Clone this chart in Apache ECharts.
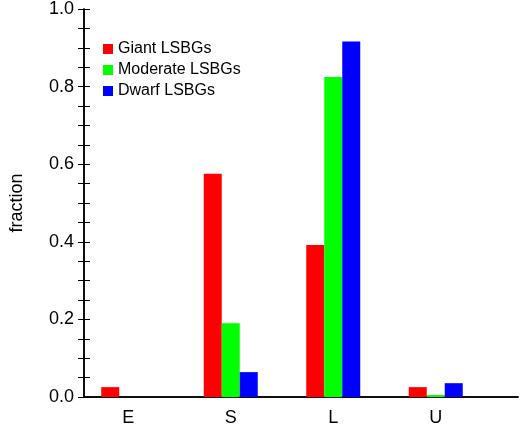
<!DOCTYPE html>
<html><head><meta charset="utf-8">
<script src="https://cdn.jsdelivr.net/npm/echarts@6/dist/echarts.min.js"></script>
<style>html,body{margin:0;background:#fff}#c{width:520px;height:430px}</style>
</head><body><div id="c"></div>
<script>
// 数据
const categories = ['E', 'S', 'L', 'U'];
const giant = [0.025, 0.565, 0.385, 0.025];
const moderate = [0, 0.187, 0.81, 0.005];
const dwarf = [0, 0.063, 0.9, 0.035];
const yTicks = ['0.0', '0.2', '0.4', '0.6', '0.8', '1.0'];

const font = 'Liberation Sans';
const chart = echarts.init(document.getElementById('c'));

const frameY = (pos, show) => ({
  gridIndex: 0, type: 'value', min: 0, max: 1, interval: 0.05, position: pos,
  axisLine: { show: true, lineStyle: { color: '#000', width: 1.5 } },
  axisTick: { show: true, inside: true, length: 6, lineStyle: { color: '#000' } },
  splitLine: { show: false },
  axisLabel: { show: show, color: '#000', fontSize: 18, fontFamily: font, margin: 10,
    formatter: v => yTicks.indexOf(v.toFixed(2).slice(0, 3)) >= 0 && Math.abs(v * 5 - Math.round(v * 5)) < 1e-6 ? v.toFixed(1) : '' },
  name: show ? 'fraction' : '', nameLocation: 'middle', nameGap: 58, nameRotate: 90,
  nameTextStyle: { color: '#000', fontSize: 18, fontFamily: font }
});

chart.setOption({
  animation: false,
  grid: [
    { left: 78, right: 2, top: 2, bottom: 33 },
    { left: 77, right: 33, top: 2, bottom: 33 }
  ],
  legend: {
    orient: 'vertical', left: 98, top: 36, itemWidth: 10, itemHeight: 10, itemGap: 5,
    icon: 'rect', textStyle: { fontSize: 16, fontFamily: font, color: '#000' },
    data: ['Giant LSBGs', 'Moderate LSBGs', 'Dwarf LSBGs']
  },
  xAxis: [
    { gridIndex: 0, type: 'value', min: 0, max: 1, position: 'bottom',
      axisLine: { show: true, lineStyle: { color: '#000', width: 1.5 } },
      axisTick: { show: false }, axisLabel: { show: false }, splitLine: { show: false } },
    { gridIndex: 0, type: 'value', min: 0, max: 1, position: 'top',
      axisLine: { show: true, lineStyle: { color: '#000', width: 1.5 } },
      axisTick: { show: false }, axisLabel: { show: false }, splitLine: { show: false } },
    { gridIndex: 1, type: 'category', data: categories,
      axisLine: { show: false }, axisTick: { show: false },
      axisLabel: { color: '#000', fontSize: 18, fontFamily: font, margin: 12 } }
  ],
  yAxis: [
    frameY('left', true),
    frameY('right', false),
    { gridIndex: 1, type: 'value', min: 0, max: 1, show: false }
  ],
  series: [
    { name: 'Giant LSBGs', type: 'bar', xAxisIndex: 2, yAxisIndex: 2, data: giant,
      barWidth: 18, barGap: '0%', itemStyle: { color: '#ff0000' } },
    { name: 'Moderate LSBGs', type: 'bar', xAxisIndex: 2, yAxisIndex: 2, data: moderate,
      barWidth: 18, barGap: '0%', itemStyle: { color: '#00ff00' } },
    { name: 'Dwarf LSBGs', type: 'bar', xAxisIndex: 2, yAxisIndex: 2, data: dwarf,
      barWidth: 18, barGap: '0%', itemStyle: { color: '#0000ff' } }
  ]
});
</script></body></html>
